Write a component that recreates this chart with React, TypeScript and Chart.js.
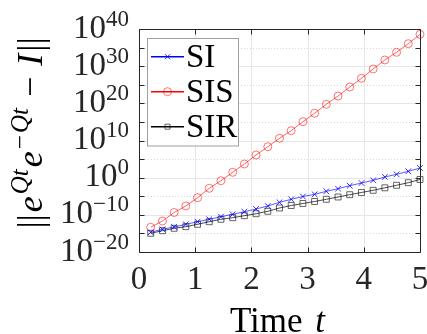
import React, { useEffect, useRef } from "react";
import { Chart, registerables } from "chart.js";

Chart.register(...registerables);

// time samples (t = k*5/24)
const tValues = [
  0.208, 0.417, 0.625, 0.833, 1.042, 1.25, 1.458, 1.667, 1.875, 2.083, 2.292, 2.5,
  2.708, 2.917, 3.125, 3.333, 3.542, 3.75, 3.958, 4.167, 4.375, 4.583, 4.792, 5.0,
];
// log10 of the error norm
const siLog10 = [
  -14.7, -13.89, -13.27, -12.55, -11.85, -11.2, -10.5, -9.86, -9.16, -8.43, -7.62, -6.63,
  -5.82, -5.07, -4.48, -3.67, -2.97, -2.16, -1.44, -0.71, 0.18, 0.91, 1.71, 2.6,
];
const sisLog10 = [
  -13.35, -11.66, -9.37, -7.62, -5.39, -2.86, -0.82, 1.44, 3.68, 6.1, 8.33, 10.59,
  12.64, 15.06, 17.32, 19.74, 21.97, 24.39, 26.74, 29.24, 31.66, 33.73, 36.04, 38.57,
];
const sirLog10 = [
  -14.97, -14.27, -13.62, -13.19, -12.55, -11.85, -11.2, -10.77, -10.23, -9.7, -9.05, -8.16,
  -7.49, -6.95, -6.41, -5.82, -5.2, -4.58, -3.99, -3.4, -2.73, -2.05, -1.35, -0.49,
];
const seriesNames = ["SI", "SIS", "SIR"];
const xTicks = [0, 1, 2, 3, 4, 5];
const yMajorExp = [-20, -10, 0, 10, 20, 30, 40];
const yMinorExp = [-15, -5, 5, 15, 25, 35];

const SERIF = '"Liberation Serif", "Times New Roman", serif';

type Seg = { text: string; size: number; italic?: boolean; raise?: number };

function segFont(s: Seg) {
  return `${s.italic ? "italic " : ""}${s.size}px ${SERIF}`;
}

function drawSegs(
  ctx: CanvasRenderingContext2D,
  segs: Seg[],
  x: number,
  y: number,
  align: "left" | "center" | "right",
  spacing = 0
) {
  ctx.textAlign = "left";
  ctx.textBaseline = "alphabetic";
  const widths = segs.map((s) => {
    ctx.font = segFont(s);
    return ctx.measureText(s.text).width;
  });
  const total = widths.reduce((a, b) => a + b, 0) + spacing * (segs.length - 1);
  let cx = align === "center" ? x - total / 2 : align === "right" ? x - total : x;
  segs.forEach((s, i) => {
    ctx.font = segFont(s);
    ctx.fillText(s.text, cx, y - (s.raise || 0));
    cx += widths[i] + spacing;
  });
}

const colors = {
  siLine: "rgba(0,0,255,0.65)",
  siMark: "rgba(0,0,255,0.8)",
  sisLine: "rgba(255,0,0,0.6)",
  sisMark: "rgba(255,0,0,0.55)",
  sirLine: "rgba(0,0,0,0.7)",
  sirMark: "rgba(0,0,0,0.6)",
};

const decorPlugin = {
  id: "matlabDecor",
  beforeDatasetsDraw(chart: any) {
    const { ctx, chartArea, scales } = chart;
    const { left, right, top, bottom } = chartArea;
    const xs = scales.x;
    const ys = scales.y;
    ctx.save();
    ctx.lineWidth = 1;
    ctx.strokeStyle = "#e6e6e6";
    xTicks.forEach((t) => {
      const px = Math.round(xs.getPixelForValue(t)) + 0.5;
      ctx.beginPath();
      ctx.moveTo(px, top);
      ctx.lineTo(px, bottom);
      ctx.stroke();
    });
    yMajorExp.forEach((e) => {
      const py = Math.round(ys.getPixelForValue(Math.pow(10, e))) + 0.5;
      ctx.beginPath();
      ctx.moveTo(left, py);
      ctx.lineTo(right, py);
      ctx.stroke();
    });
    ctx.strokeStyle = "#d8d8d8";
    ctx.setLineDash([1, 2]);
    yMinorExp.forEach((e) => {
      const py = Math.round(ys.getPixelForValue(Math.pow(10, e))) + 0.5;
      ctx.beginPath();
      ctx.moveTo(left, py);
      ctx.lineTo(right, py);
      ctx.stroke();
    });
    ctx.restore();
  },
  afterDatasetsDraw(chart: any) {
    const { ctx, chartArea, scales } = chart;
    const { left, right, top, bottom } = chartArea;
    const xs = scales.x;
    const ys = scales.y;
    ctx.save();
    ctx.strokeStyle = "#262626";
    ctx.lineWidth = 1;
    const L = Math.round(left) + 0.5;
    const R = Math.round(right) + 0.5;
    const T = Math.round(top) + 0.5;
    const B = Math.round(bottom) + 0.5;
    ctx.beginPath();
    ctx.rect(L, T, R - L, B - T);
    ctx.stroke();
    const tl = 5;
    ctx.beginPath();
    xTicks.forEach((t) => {
      const px = Math.round(xs.getPixelForValue(t)) + 0.5;
      ctx.moveTo(px, B);
      ctx.lineTo(px, B - tl);
      ctx.moveTo(px, T);
      ctx.lineTo(px, T + tl);
    });
    [...yMajorExp, ...yMinorExp].forEach((e) => {
      const py = Math.round(ys.getPixelForValue(Math.pow(10, e))) + 0.5;
      ctx.moveTo(L, py);
      ctx.lineTo(L + tl, py);
      ctx.moveTo(R, py);
      ctx.lineTo(R - tl, py);
    });
    ctx.stroke();

    ctx.fillStyle = "#262626";
    xTicks.forEach((t) => {
      const px = xs.getPixelForValue(t);
      drawSegs(ctx, [{ text: String(t), size: 33 }], px, 289, "center");
    });
    yMajorExp.forEach((e) => {
      const py = ys.getPixelForValue(Math.pow(10, e));
      const sup = e < 0 ? "\u2212" + Math.abs(e) : String(e);
      drawSegs(
        ctx,
        [
          { text: "10", size: 33 },
          { text: sup, size: 23, raise: 12 },
        ],
        129,
        py + 8.5,
        "right"
      );
    });
    ctx.fillStyle = "#000";
    drawSegs(
      ctx,
      [
        { text: "Time", size: 35 },
        { text: " ", size: 35 },
        { text: "t", size: 35, italic: true },
      ],
      (left + right) / 2 - 2,
      332,
      "center",
      2
    );
    ctx.save();
    ctx.translate(42, 133);
    ctx.rotate(-Math.PI / 2);
    drawSegs(
      ctx,
      [
        { text: "||", size: 36 },
        { text: "e", size: 36, italic: true },
        { text: "Qt", size: 25, italic: true, raise: 14 },
        { text: "e", size: 36, italic: true },
        { text: "\u2212", size: 25, raise: 14 },
        { text: "Qt", size: 25, italic: true, raise: 14 },
        { text: " \u2212 ", size: 36 },
        { text: "I", size: 36, italic: true },
        { text: "||", size: 36 },
      ],
      0,
      0,
      "center",
      2
    );
    ctx.restore();

    const bx = 147.5,
      by = 38.5,
      bw = 91,
      bh = 107.5;
    ctx.fillStyle = "#ffffff";
    ctx.fillRect(bx, by, bw, bh);
    ctx.strokeStyle = "#a0a0a0";
    ctx.lineWidth = 1;
    ctx.strokeRect(bx, by, bw, bh);
    const rows = [56.7, 91.7, 126.7];
    const lineCols = ["#0000ff", "#ff0000", "#000000"];
    const markCols = [colors.siMark, colors.sisMark, colors.sirMark];
    rows.forEach((ry, i) => {
      ctx.strokeStyle = lineCols[i];
      ctx.lineWidth = 1.5;
      ctx.beginPath();
      ctx.moveTo(151, ry);
      ctx.lineTo(184, ry);
      ctx.stroke();
      ctx.strokeStyle = markCols[i];
      ctx.lineWidth = 1;
      const mx = 167.5;
      ctx.beginPath();
      if (i === 0) {
        ctx.moveTo(mx - 2.5, ry - 2.5);
        ctx.lineTo(mx + 2.5, ry + 2.5);
        ctx.moveTo(mx + 2.5, ry - 2.5);
        ctx.lineTo(mx - 2.5, ry + 2.5);
      } else if (i === 1) {
        ctx.arc(mx, ry, 4, 0, Math.PI * 2);
      } else {
        ctx.rect(mx - 2.5, ry - 2.5, 5, 5);
      }
      ctx.stroke();
      ctx.fillStyle = "#000";
      drawSegs(ctx, [{ text: seriesNames[i], size: 33 }], 186, ry + 10.5, "left");
    });
    ctx.restore();
  },
};

export default function App() {
  const ref = useRef<HTMLCanvasElement | null>(null);
  useEffect(() => {
    document.body.style.margin = "0";
    const canvas = ref.current;
    if (!canvas) return;
    const mk = (
      label: string,
      exps: number[],
      line: string,
      mark: string,
      style: string,
      radius: number
    ) => ({
      label,
      data: tValues.map((t, i) => ({ x: t, y: Math.pow(10, exps[i]) })),
      borderColor: line,
      borderWidth: 1,
      pointStyle: style,
      pointRadius: radius,
      pointBorderColor: mark,
      pointBackgroundColor: "rgba(0,0,0,0)",
      pointBorderWidth: 1,
      fill: false,
      tension: 0,
      clip: false as any,
    });
    const chart = new Chart(canvas, {
      type: "line",
      data: {
        datasets: [
          mk(seriesNames[0], siLog10, colors.siLine, colors.siMark, "crossRot", 4),
          mk(seriesNames[1], sisLog10, colors.sisLine, colors.sisMark, "circle", 4),
          mk(seriesNames[2], sirLog10, colors.sirLine, colors.sirMark, "rect", 4.2),
        ] as any,
      },
      options: {
        animation: false,
        responsive: false,
        devicePixelRatio: 1,
        layout: { padding: { left: 139, right: 7, top: 29, bottom: 82 } },
        scales: {
          x: { type: "linear", min: 0, max: 5, display: false },
          y: { type: "logarithmic", min: 1e-20, max: 1e40, display: false },
        },
        plugins: {
          legend: { display: false },
          tooltip: { enabled: false },
        },
      },
      plugins: [decorPlugin],
    });
    return () => chart.destroy();
  }, []);
  return (
    <div style={{ width: 427, height: 334, background: "#fff" }}>
      <canvas ref={ref} width={427} height={334} />
    </div>
  );
}
